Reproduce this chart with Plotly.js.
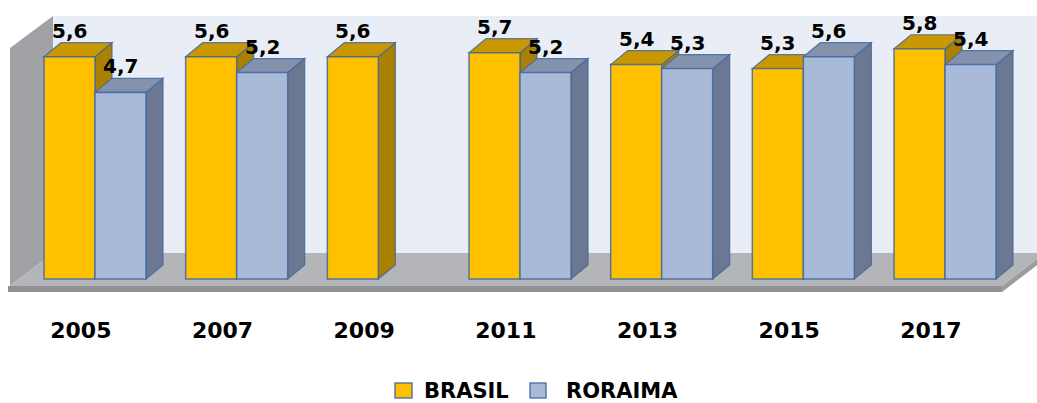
<!DOCTYPE html>
<html>
<head>
<meta charset="utf-8">
<script src="https://cdn.plot.ly/plotly-3.0.1.min.js"></script>
<style>html,body{margin:0;padding:0;background:#fff;}#chart{width:1037px;height:403px;}</style>
</head>
<body>
<div id="chart"></div>
<script>
// ---- data ----
const years = ['2005', '2007', '2009', '2011', '2013', '2015', '2017'];
const brasil = [5.6, 5.6, 5.6, 5.7, 5.4, 5.3, 5.8];
const roraima = [4.7, 5.2, null, 5.2, 5.3, 5.6, 5.4];
const seriesNames = ['BRASIL', 'RORAIMA'];

// ---- geometry / style ----
const W = 1037, H = 403;
const MB = 103;                 // bottom margin
const PLOT_H = H - MB;
const X0PX = 95, XS = 141.67;   // px of first group centre, px per group
const Y0PX = 279, YS = 39.7;    // px of value 0, px per unit
const BAR_W = 0.36;
const DX = 17 / XS, DY = 14 / YS;   // 3D depth offset in axis units
const FONT = 'DejaVu Sans';

const px2x = p => (p - X0PX) / XS;
const py2y = p => (Y0PX - p) / YS;
const poly = pts => 'M' + pts.map(p => px2x(p[0]) + ',' + py2y(p[1])).join(' L') + ' Z';

const idx = years.map((_, i) => i);
const colors = {
  front: ['#FFC000', '#A9B9D8'],
  top: ['#C99700', '#8592AD'],
  side: ['#A98000', '#6C7892']
};
const edge = 'rgba(65,105,160,0.85)';

const shapes = [];
// back wall
shapes.push({type: 'path', layer: 'below', xref: 'x', yref: 'y',
  path: poly([[53, 16], [1045, 16], [1045, 253], [53, 253]]),
  fillcolor: '#E9EDF6', line: {width: 0}});
// left wall
shapes.push({type: 'path', layer: 'below', xref: 'x', yref: 'y',
  path: poly([[10, 48], [53, 16], [53, 253], [10, 286]]),
  fillcolor: '#A0A2A6', line: {width: 0}});
// floor top
shapes.push({type: 'path', layer: 'below', xref: 'x', yref: 'y',
  path: poly([[10, 286], [1002, 286], [1045, 253], [53, 253]]),
  fillcolor: '#B3B5B8', line: {width: 0}});
// floor front edge
shapes.push({type: 'path', layer: 'below', xref: 'x', yref: 'y',
  path: poly([[8, 286], [1002, 286], [1002, 292], [8, 292]]),
  fillcolor: '#8F9194', line: {width: 0}});
shapes.push({type: 'path', layer: 'below', xref: 'x', yref: 'y',
  path: poly([[1002, 286], [1045, 253], [1045, 259], [1002, 292]]),
  fillcolor: '#9A9C9F', line: {width: 0}});

// 3D tops and sides of bars
const series = [brasil, roraima];
const offsets = [-BAR_W, 0];
const annotations = [];
series.forEach((vals, s) => {
  vals.forEach((v, i) => {
    if (v === null) return;
    const xl = i + offsets[s], xr = xl + BAR_W;
    shapes.push({type: 'path', layer: 'below', xref: 'x', yref: 'y',
      path: `M${xr},0 L${xr},${v} L${xr + DX},${v + DY} L${xr + DX},${DY} Z`,
      fillcolor: colors.side[s], line: {color: edge, width: 1.2}});
    shapes.push({type: 'path', layer: 'below', xref: 'x', yref: 'y',
      path: `M${xl},${v} L${xl + DX},${v + DY} L${xr + DX},${v + DY} L${xr},${v} Z`,
      fillcolor: colors.top[s], line: {color: edge, width: 1.2}});
    annotations.push({x: xl + BAR_W / 2, y: v + DY, xref: 'x', yref: 'y',
      text: v.toFixed(1).replace('.', ','), showarrow: false,
      yanchor: 'bottom', xanchor: 'center', yshift: -2,
      font: {family: FONT, size: 20, color: '#000', weight: 'bold'}});
  });
});

// custom legend (symbols + names from the series names)
const legendSym = [[395, 412], [530, 546]];
const legendTxt = [422, 564];
seriesNames.forEach((name, s) => {
  shapes.push({type: 'rect', layer: 'above', xref: 'paper', yref: 'paper',
    x0: legendSym[s][0] / W, x1: legendSym[s][1] / W,
    y0: (PLOT_H - 398) / PLOT_H, y1: (PLOT_H - 383) / PLOT_H,
    fillcolor: colors.front[s], line: {color: edge, width: 1.5}});
  annotations.push({x: legendTxt[s] / W, y: (PLOT_H - 391) / PLOT_H, xref: 'paper', yref: 'paper',
    text: name, showarrow: false, xanchor: 'left', yanchor: 'middle',
    font: {family: FONT, size: 21, color: '#000', weight: 'bold'}});
});

const traces = series.map((vals, s) => ({
  type: 'bar', name: seriesNames[s], x: idx, y: vals,
  marker: {color: colors.front[s], line: {color: edge, width: 1.5}},
  hoverinfo: 'skip'
}));

const layout = {
  width: W, height: H,
  margin: {l: 0, r: 0, t: 0, b: MB, pad: 0},
  paper_bgcolor: '#ffffff', plot_bgcolor: 'rgba(0,0,0,0)',
  barmode: 'group', bargap: 0.28, bargroupgap: 0,
  showlegend: false,
  xaxis: {range: [px2x(0), px2x(W)], tickvals: idx.map(i => i - 0.1), ticktext: years,
    showgrid: false, zeroline: false, showline: false, ticks: 'outside', ticklen: 11,
    tickcolor: 'rgba(0,0,0,0)', fixedrange: true,
    tickfont: {family: FONT, size: 22, color: '#000', weight: 'bold'}},
  yaxis: {range: [py2y(PLOT_H), py2y(0)], showgrid: false, zeroline: false, showline: false,
    showticklabels: false, ticks: '', fixedrange: true},
  shapes: shapes,
  annotations: annotations
};

Plotly.newPlot('chart', traces, layout, {displayModeBar: false, staticPlot: true});
</script>
</body>
</html>
